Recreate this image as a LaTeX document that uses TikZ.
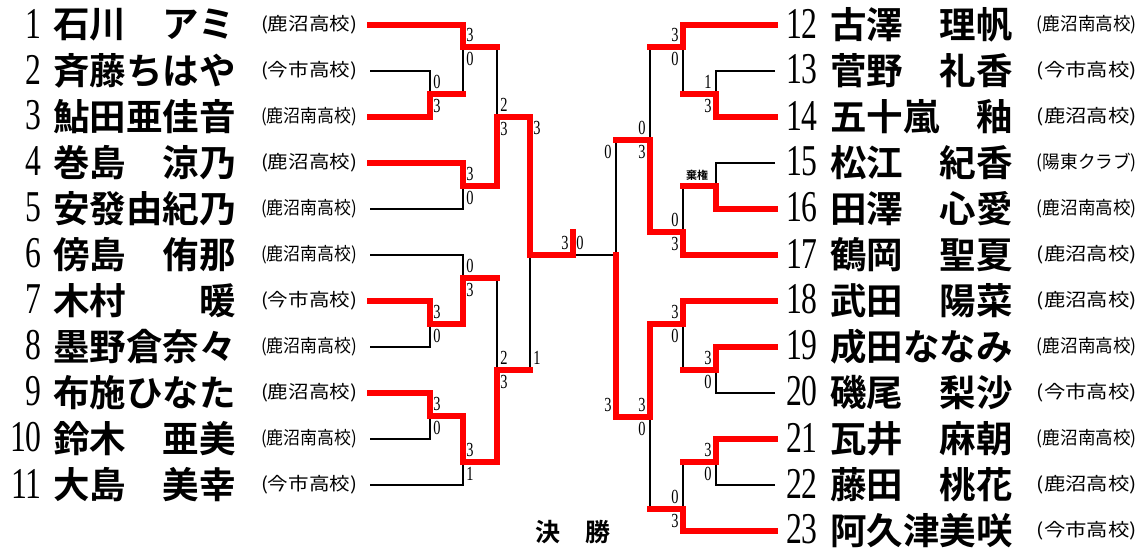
\documentclass[tikz,border=0pt]{standalone}
\usepackage{fontspec}
\usepackage{graphicx}
\setmainfont{Liberation Serif}
\newfontfamily\numfont{Liberation Serif}[FakeStretch=0.72]
\newfontfamily\jpbold{Noto Sans CJK JP Bold}
\newfontfamily\jpfont{Noto Sans CJK JP}
\newcommand\schoolL[1]{\resizebox{96pt}{\height}{\jpfont\fontsize{18}{18}\selectfont(#1)}}
\newcommand\schoolR[1]{\resizebox{100pt}{\height}{\jpfont\fontsize{18}{18}\selectfont(#1)}}
\tikzset{
  num/.style={inner sep=0pt, font=\numfont\fontsize{44}{44}\selectfont},
  pname/.style={inner sep=0pt, font=\jpbold\fontsize{36.5}{36.5}\selectfont},
  sch/.style={inner sep=0pt},
  score/.style={inner sep=0pt, font=\numfont\fontsize{20}{20}\selectfont},
  lose/.style={line width=1.4pt, black},
  win/.style={line width=5.5pt, red, line cap=rect},
}
\begin{document}
\begin{tikzpicture}[x=1pt,y=-1pt]
\useasboundingbox (0,0) rectangle (1145,548);
% left players
\foreach \i/\nm/\sc in {1/石川　アミ/鹿沼高校, 2/斉藤ちはや/今市高校, 3/鮎田亜佳音/鹿沼南高校,
  4/巻島　涼乃/鹿沼高校, 5/安發由紀乃/鹿沼南高校, 6/傍島　侑那/鹿沼南高校,
  7/木村　　暖/今市高校, 8/墨野倉奈々/鹿沼南高校, 9/布施ひなた/鹿沼高校,
  10/鈴木　亜美/鹿沼南高校, 11/大島　美幸/今市高校} {
  \pgfmathsetmacro\y{25+46*(\i-1)}
  \node[num, anchor=east] (n\i) at (42,\y-1.5) {\i};
  \node[pname, anchor=west] (nm\i) at (53,\y) {\nm};
  \node[sch] (s\i) at (309,\y) {\schoolL{\sc}};
  \coordinate (p\i) at (370,\y);
}
% right players
\foreach \i/\nm/\sc in {12/古澤　理帆/鹿沼南高校, 13/菅野　礼香/今市高校, 14/五十嵐　釉/鹿沼高校,
  15/松江　紀香/陽東クラブ, 16/田澤　心愛/鹿沼南高校, 17/鶴岡　聖夏/鹿沼高校,
  18/武田　陽菜/鹿沼高校, 19/成田ななみ/鹿沼南高校, 20/磯尾　梨沙/今市高校,
  21/瓦井　麻朝/鹿沼南高校, 22/藤田　桃花/鹿沼高校, 23/阿久津美咲/今市高校} {
  \pgfmathsetmacro\y{25+46*(\i-12)}
  \node[num, anchor=east] (n\i) at (818,\y-1.5) {\i};
  \node[pname, anchor=west] (nm\i) at (830,\y) {\nm};
  \node[sch, anchor=east] (s\i) at (1137,\y) {\schoolR{\sc}};
  \coordinate (p\i) at (775,\y);
}
% match points
\coordinate (m23) at (430,94);
\coordinate (m1) at (463,47);
\coordinate (m45) at (463,186);
\coordinate (mA) at (497,117);
\coordinate (m78) at (430,324);
\coordinate (m6) at (463,278);
\coordinate (m910) at (430,416);
\coordinate (m11) at (463,462);
\coordinate (mB) at (497,370);
\coordinate (mL) at (530,255);
\coordinate (fin) at (573,255);
\coordinate (champ) at (573,232);
\coordinate (r1314) at (716,94);
\coordinate (r12) at (683,47);
\coordinate (r1516) at (716,186);
\coordinate (r17) at (683,232);
\coordinate (rC) at (650,140);
\coordinate (r1920) at (716,370);
\coordinate (r18) at (683,324);
\coordinate (r2122) at (716,462);
\coordinate (r23) at (683,509);
\coordinate (rD) at (650,417);
\coordinate (rR) at (616,255);
% bracket
\foreach \a/\b in {p2/m23,p3/m23,p1/m1,m23/m1,p4/m45,p5/m45,m1/mA,m45/mA,
  p7/m78,p8/m78,p6/m6,m78/m6,p9/m910,p10/m910,m910/m11,p11/m11,m6/mB,m11/mB,mA/mL,mB/mL,
  p13/r1314,p14/r1314,p12/r12,r1314/r12,p15/r1516,p16/r1516,r1516/r17,p17/r17,r12/rC,r17/rC,
  p19/r1920,p20/r1920,p18/r18,r1920/r18,p21/r2122,p22/r2122,r2122/r23,p23/r23,r18/rD,r23/rD,
  rC/rR,rD/rR}
  \draw[lose] (\a) -| (\b);
\draw[lose] (rR) -- (fin);
% winners
\foreach \a/\b in {p3/m23,p1/m1,p4/m45,m45/mA,p7/m78,m78/m6,p9/m910,m910/m11,m11/mB,mA/mL,
  p14/r1314,p12/r12,p16/r1516,p17/r17,r17/rC,p19/r1920,p18/r18,p21/r2122,p23/r23,r18/rD,rD/rR}
  \draw[win] (\a) -| (\b);
\foreach \a/\b in {m23/m1,m1/mA,m6/mB,mB/mL,r1314/r12,r12/rC,r1516/r17,r1920/r18,
  r2122/r23,r23/rD,rC/rR}
  \draw[win] (\a) -- (\a -| \b);
\draw[win] (mL) -- (fin) -- (champ);
% scores
\foreach \c/\t/\b in {m23/0/3,m1/3/0,m45/3/0,mA/2/3,m78/3/0,m6/0/3,m910/3/0,m11/3/1,mB/2/3} {
  \node[score] (\c t) at ([shift={(7,-12)}]\c) {\t};
  \node[score] (\c b) at ([shift={(7,12)}]\c) {\b};
}
\foreach \c/\t/\b in {r1314/1/3,r12/3/0,r17/0/3,rC/0/3,r1920/3/0,r18/3/0,r2122/3/0,r23/0/3,rD/3/0} {
  \node[score] (\c t) at ([shift={(-8,-12)}]\c) {\t};
  \node[score] (\c b) at ([shift={(-8,12)}]\c) {\b};
}
\node[score] (mLt) at (537,128) {3};
\node[score] (mLb) at (537,358) {1};
\node[score] (rRt) at (608,152) {0};
\node[score] (rRb) at (608,405) {3};
\node[score] (finl) at (565,243) {3};
\node[score] (finr) at (580,243) {0};
\node[inner sep=0pt, font=\jpbold\fontsize{11}{11}\selectfont] (kiken) at (697,175) {棄権};
\node[inner sep=0pt, font=\jpbold\fontsize{25}{25}\selectfont] (title) at (573,532) {決　勝};
\end{tikzpicture}
\end{document}
